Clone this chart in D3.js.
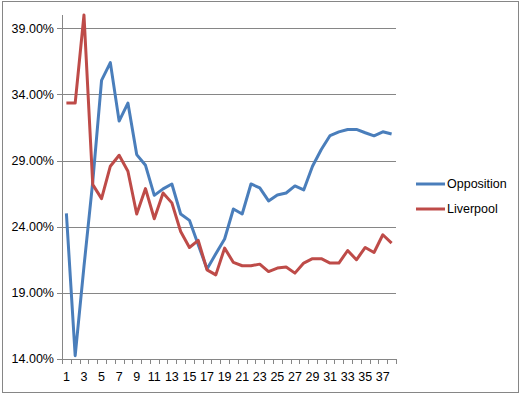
<!DOCTYPE html>
<html>
<head>
<meta charset="utf-8">
<script src="https://cdn.jsdelivr.net/npm/d3@7"></script>
<style>
  body { margin: 0; background: #fff; }
  text { font-family: "Liberation Sans", Arial, sans-serif; fill: #000; }
</style>
</head>
<body>
<div id="chart"></div>
<script>
const width = 521;
const height = 395;

// Rounds and share values (percent)
const rounds = d3.range(1, 39);
const opposition = [25.0, 14.25, 21.0, 27.4, 35.06, 36.4, 31.98, 33.34, 29.45, 28.64,
  26.37, 26.86, 27.23, 24.96, 24.48, 22.64, 20.8, 21.95, 23.07, 25.34,
  24.96, 27.23, 26.93, 25.95, 26.4, 26.55, 27.08, 26.78, 28.57, 29.83,
  30.89, 31.17, 31.35, 31.35, 31.1, 30.87, 31.17, 31.0];
const liverpool = [33.34, 33.34, 40.0, 27.18, 26.12, 28.57, 29.4, 28.19, 24.96, 26.88,
  24.6, 26.55, 25.8, 23.64, 22.43, 22.96, 20.74, 20.36, 22.38, 21.3,
  21.05, 21.05, 21.17, 20.61, 20.87, 20.95, 20.49, 21.25, 21.58, 21.58,
  21.25, 21.25, 22.2, 21.5, 22.43, 22.05, 23.39, 22.76];
const yTicks = [14, 19, 24, 29, 34, 39];
const seriesNames = ["Opposition", "Liverpool"];
const colors = ["#4a7ebb", "#be4b48"];

const plot = { left: 62, top: 15, right: 396, bottom: 359 };

const svg = d3.select("#chart").append("svg")
  .attr("width", width)
  .attr("height", height);

// outer frame
svg.append("rect")
  .attr("x", 2.5).attr("y", 1.5)
  .attr("width", 516).attr("height", 391)
  .attr("fill", "none")
  .attr("stroke", "#868686");

const x = d3.scaleBand().domain(rounds).range([plot.left, plot.right]);
const y = d3.scaleLinear().domain([14, 40]).range([plot.bottom, plot.top]);

// gridlines
svg.append("g")
  .selectAll("line")
  .data(yTicks)
  .join("line")
  .attr("x1", plot.left - 5)
  .attr("x2", plot.right)
  .attr("y1", d => Math.round(y(d)) + 0.5)
  .attr("y2", d => Math.round(y(d)) + 0.5)
  .attr("stroke", "#868686");

// y axis labels
svg.append("g")
  .selectAll("text")
  .data(yTicks)
  .join("text")
  .attr("x", plot.left - 8)
  .attr("y", d => y(d))
  .attr("dy", "0.35em")
  .attr("text-anchor", "end")
  .attr("font-size", 12.5)
  .text(d => d.toFixed(2) + "%");

// y axis line
svg.append("line")
  .attr("x1", plot.left + 0.5).attr("x2", plot.left + 0.5)
  .attr("y1", plot.top).attr("y2", plot.bottom)
  .attr("stroke", "#868686");

// x axis ticks (between categories)
const tickPos = rounds.map(d => x(d)).concat([plot.right]);
svg.append("g")
  .selectAll("line")
  .data(tickPos)
  .join("line")
  .attr("x1", d => Math.round(d) + 0.5)
  .attr("x2", d => Math.round(d) + 0.5)
  .attr("y1", plot.bottom)
  .attr("y2", plot.bottom + 5)
  .attr("stroke", "#868686");

// x labels on odd rounds
svg.append("g")
  .selectAll("text")
  .data(rounds.filter(d => d % 2 === 1))
  .join("text")
  .attr("x", d => x(d) + x.bandwidth() / 2)
  .attr("y", 381)
  .attr("text-anchor", "middle")
  .attr("font-size", 12.5)
  .text(d => d);

// lines
const line = d3.line()
  .x((d, i) => x(rounds[i]) + x.bandwidth() / 2)
  .y(d => y(d));

[opposition, liverpool].forEach((s, i) => {
  svg.append("path")
    .datum(s)
    .attr("d", line)
    .attr("fill", "none")
    .attr("stroke", colors[i])
    .attr("stroke-width", 3)
    .attr("stroke-linejoin", "round");
});

// legend
const legend = svg.append("g")
  .selectAll("g")
  .data(seriesNames)
  .join("g")
  .attr("transform", (d, i) => `translate(416, ${184 + i * 25})`);

legend.append("line")
  .attr("x1", 0).attr("x2", 29)
  .attr("stroke", (d, i) => colors[i])
  .attr("stroke-width", 3);

legend.append("text")
  .attr("x", 31)
  .attr("dy", "0.35em")
  .attr("font-size", 12.5)
  .text(d => d);
</script>
</body>
</html>
